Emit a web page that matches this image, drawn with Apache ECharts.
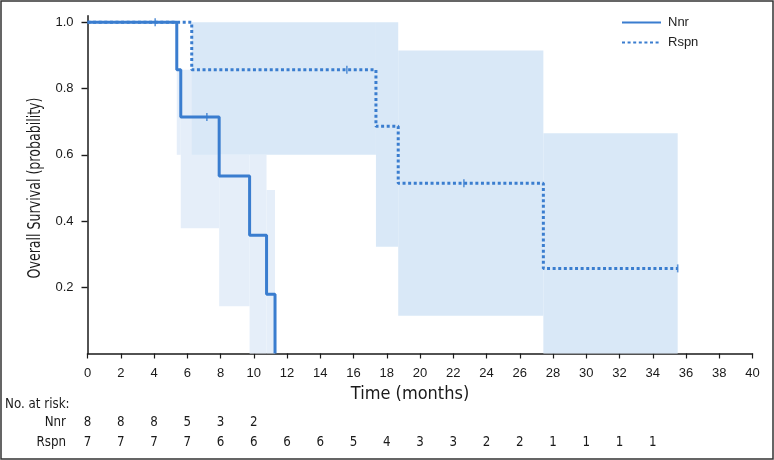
<!DOCTYPE html>
<html>
<head>
<meta charset="utf-8">
<script src="https://cdn.jsdelivr.net/npm/echarts@6/dist/echarts.min.js"></script>
<style>
html,body{margin:0;padding:0;background:#fff;}
#chart{width:774px;height:460px;}
</style>
</head>
<body>
<div id="chart"></div>
<script>
// ---- data ----
const xTicks = [0,2,4,6,8,10,12,14,16,18,20,22,24,26,28,30,32,34,36,38,40];
const yTicks = [0.2,0.4,0.6,0.8,1.0];

const nnrTimes = [0, 5.37, 5.61, 7.92, 9.75, 10.77, 11.28];
const nnrSurv  = [1, 0.857, 0.714, 0.536, 0.357, 0.179, 0];
const rspnTimes = [0, 6.27, 17.35, 18.69, 27.42, 35.5];
const rspnSurv  = [1, 0.857, 0.686, 0.514, 0.257, 0.257];

const nnrCensorT = [4.07, 7.18];
const nnrCensorS = [1.0, 0.714];
const rspnCensorT = [15.6, 22.64, 35.5];
const rspnCensorS = [0.857, 0.514, 0.257];

const nnrBandStart = [5.37, 5.61, 7.92, 9.75, 10.77];
const nnrBandEnd   = [5.61, 7.92, 9.75, 10.77, 11.28];
const nnrLower     = [0.6, 0.378, 0.143, 0, 0];
const nnrUpper     = [0.857, 0.857, 0.6, 0.6, 0.494];

const rspnBandStart = [6.27, 17.35, 18.69, 27.42];
const rspnBandEnd   = [17.35, 18.69, 27.42, 35.5];
const rspnLower     = [0.6, 0.322, 0.114, 0];
const rspnUpper     = [1.0, 1.0, 0.915, 0.665];

const riskTimesNnr = [0,2,4,6,8,10];
const nnrRisk = [8,8,8,5,3,2];
const riskTimesRspn = [0,2,4,6,8,10,12,14,16,18,20,22,24,26,28,30,32,34];
const rspnRisk = [7,7,7,7,6,6,6,6,5,4,3,3,2,2,1,1,1,1];

const groupNames = ['Nnr', 'Rspn'];
const xTitle = 'Time (months)';
const yTitle = 'Overall Survival (probability)';
const riskTitle = 'No. at risk:';

// ---- styles ----
const lineColor = '#3a7dcf';
const nnrBandColor = '#e5eef9';
const rspnBandColor = '#d9e8f7';
const axisColor = '#1a1a1a';
const mainFont = '"Liberation Sans", Arial, sans-serif';
const condFont = '"DejaVu Sans", sans-serif';

const zip2 = (a, b) => a.map((v, i) => [v, b[i]]);
const band = (s, e, lo, hi) => s.map((v, i) => [v, e[i], lo[i], hi[i]]);

function bandRenderer(color) {
  return function (params, api) {
    const p0 = api.coord([api.value(0), api.value(3)]);
    const p1 = api.coord([api.value(1), api.value(2)]);
    return {
      type: 'rect',
      shape: { x: p0[0], y: p0[1], width: p1[0] - p0[0], height: p1[1] - p0[1] },
      style: { fill: color }
    };
  };
}

function riskRenderer(rowY) {
  return function (params, api) {
    const p = api.coord([api.value(0), 0]);
    return {
      type: 'text',
      x: p[0], y: rowY,
      scaleX: 0.85,
      style: {
        text: String(api.value(1)),
        fill: axisColor,
        font: '14px ' + condFont,
        align: 'center',
        verticalAlign: 'middle'
      }
    };
  };
}

const chart = echarts.init(document.getElementById('chart'), null, { renderer: 'canvas' });

const option = {
  animation: false,
  backgroundColor: '#fff',
  grid: { left: 87.5, right: 21.5, top: 15.7, bottom: 106.5 },
  legend: {
    data: groupNames,
    orient: 'vertical',
    left: 621,
    top: 16,
    padding: 0,
    itemWidth: 39,
    itemHeight: 14,
    itemGap: 7,
    itemStyle: { opacity: 0 },
    textStyle: { fontSize: 13, color: '#222', fontFamily: mainFont, padding: [0,0,0,2] }
  },
  xAxis: {
    type: 'value', min: 0, max: 40, interval: 2,
    axisLine: { show: true, lineStyle: { color: axisColor, width: 1.5 } },
    axisTick: { show: true, length: 5, lineStyle: { color: axisColor, width: 1.2 } },
    axisLabel: { margin: 13, fontSize: 13, color: axisColor, fontFamily: mainFont },
    splitLine: { show: false }
  },
  yAxis: {
    type: 'value', min: 0, max: 1.02,
    axisLine: { show: true, lineStyle: { color: axisColor, width: 1.5 } },
    axisTick: { show: true, length: 6, customValues: yTicks, lineStyle: { color: axisColor, width: 1.4 } },
    axisLabel: { margin: 14, fontSize: 13, color: axisColor, fontFamily: mainFont,
      customValues: yTicks, formatter: v => v.toFixed(1) },
    splitLine: { show: false }
  },
  graphic: [
    { type: 'rect', shape: { x: 1, y: 1, width: 772, height: 458 },
      style: { fill: 'none', stroke: '#333', lineWidth: 1.5 }, z: 100 },
    { type: 'text', x: 35, y: 188, rotation: Math.PI / 2, scaleX: 0.7,
      style: { text: yTitle, font: '18px ' + condFont, fill: axisColor, align: 'center', verticalAlign: 'middle' } },
    { type: 'text', x: 410, y: 394, scaleX: 0.9,
      style: { text: xTitle, font: '18px ' + condFont, fill: axisColor, align: 'center', verticalAlign: 'middle' } },
    { type: 'text', x: 5, y: 404, scaleX: 0.85,
      style: { text: riskTitle, font: '14px ' + condFont, fill: axisColor, align: 'left', verticalAlign: 'middle' } },
    { type: 'text', x: 66, y: 422, scaleX: 0.85,
      style: { text: groupNames[0], font: '14px ' + condFont, fill: axisColor, align: 'right', verticalAlign: 'middle' } },
    { type: 'text', x: 66, y: 442, scaleX: 0.85,
      style: { text: groupNames[1], font: '14px ' + condFont, fill: axisColor, align: 'right', verticalAlign: 'middle' } }
  ],
  series: [
    { type: 'custom', renderItem: bandRenderer(nnrBandColor), data: band(nnrBandStart, nnrBandEnd, nnrLower, nnrUpper),
      encode: { x: [0, 1], y: [2, 3] }, z: 1, silent: true },
    { type: 'custom', renderItem: bandRenderer(rspnBandColor), data: band(rspnBandStart, rspnBandEnd, rspnLower, rspnUpper),
      encode: { x: [0, 1], y: [2, 3] }, z: 2, silent: true },
    { name: 'Rspn', type: 'line', step: 'end', data: zip2(rspnTimes, rspnSurv), symbol: 'none', z: 3,
      lineStyle: { color: lineColor, width: 3, type: [3, 2.6], cap: 'butt' }, itemStyle: { color: lineColor } },
    { name: 'Nnr', type: 'line', step: 'end', data: zip2(nnrTimes, nnrSurv), symbol: 'none', z: 4,
      lineStyle: { color: lineColor, width: 3 }, itemStyle: { color: lineColor } },
    { type: 'scatter', data: zip2(nnrCensorT, nnrCensorS), symbol: 'rect', symbolSize: [1.6, 8], z: 5,
      itemStyle: { color: lineColor }, silent: true },
    { type: 'scatter', data: zip2(rspnCensorT, rspnCensorS), symbol: 'rect', symbolSize: [1.6, 8], z: 5,
      itemStyle: { color: lineColor }, silent: true },
    { type: 'custom', renderItem: riskRenderer(422), data: zip2(riskTimesNnr, nnrRisk), encode: { x: 0 }, clip: false, silent: true },
    { type: 'custom', renderItem: riskRenderer(442), data: zip2(riskTimesRspn, rspnRisk), encode: { x: 0 }, clip: false, silent: true }
  ]
};
chart.setOption(option);
</script>
</body>
</html>
